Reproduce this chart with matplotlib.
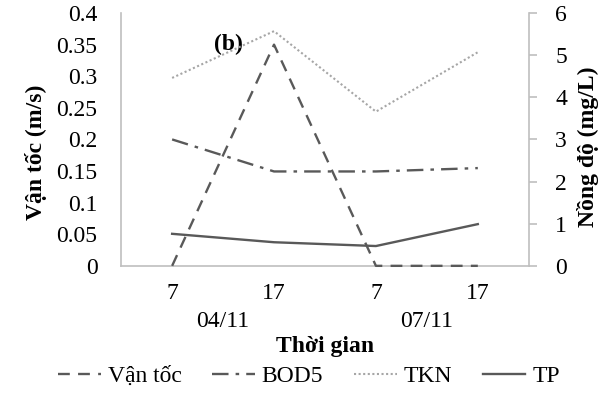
import matplotlib.pyplot as plt
import matplotlib.transforms as mtransforms
import numpy as np

# data
hours = ['7', '17', '7', '17']
days = ['04/11', '07/11']
van_toc = [0.0, 0.35, 0.0, 0.0]        # left axis (m/s)
bod5 = [3.0, 2.24, 2.24, 2.32]        # right axis (mg/L)
tkn = [4.46, 5.57, 3.66, 5.07]
tp = [0.76, 0.56, 0.47, 0.99]

plt.rcParams['font.family'] = ['Liberation Serif', 'DejaVu Serif']
fs = 17

dark = '#595959'
light = '#a6a6a6'
spine = '#bfbfbf'

fig = plt.figure(figsize=(6.12, 3.95), dpi=100)
ax = fig.add_axes([0.198, 0.327, 0.666, 0.640])
ax2 = ax.twinx()

x = np.arange(len(hours))

l1, = ax.plot(x, van_toc, color=dark, lw=1.7, dashes=(5, 3.5), zorder=3, clip_on=False)
l2, = ax2.plot(x, bod5, color=dark, lw=1.7, dashes=(7, 3, 1.5, 3))
l3, = ax2.plot(x, tkn, color=light, lw=1.5, dashes=(1, 1.2))
l4, = ax2.plot(x, tp, color=dark, lw=1.7)

ax.set_xlim(-0.5, 3.5)
ax.set_ylim(0, 0.4)
ax2.set_ylim(0, 6)

ax.set_yticks(np.arange(0, 0.401, 0.05))
ax.set_yticklabels(['0', '0.05', '0.1', '0.15', '0.2', '0.25', '0.3', '0.35', '0.4'])
ax2.set_yticks(np.arange(0, 7, 1))
ax.set_xticks(x)
ax.set_xticklabels(hours)

for a in (ax, ax2):
    for s in a.spines.values():
        s.set_color(spine)
        s.set_linewidth(1.2)
    a.spines['top'].set_visible(False)
ax.spines['right'].set_visible(False)
ax2.spines['left'].set_visible(False)
ax2.spines['bottom'].set_visible(False)

ax.tick_params(axis='y', length=0, labelsize=fs, pad=17)
ax.tick_params(axis='x', length=0, labelsize=fs, pad=12)
ax2.tick_params(axis='y', length=6, color=spine, width=1.2, labelsize=fs, pad=13)

ax.set_ylabel('Vận tốc (m/s)', fontsize=fs, fontweight='bold', labelpad=7)
ax2.set_ylabel('Nồng độ (mg/L)', fontsize=fs, fontweight='bold', labelpad=7)
ax.yaxis.label.set_y(0.45)
ax2.yaxis.label.set_y(0.47)

# date group labels under the hours
trans = mtransforms.blended_transform_factory(ax.transData, fig.transFigure)
for i, d in enumerate(days):
    ax.text(2 * i + 0.5, 0.185, d, transform=trans, ha='center', va='center', fontsize=fs)
ax.text(1.5, 0.122, 'Thời gian', transform=trans, ha='center', va='center',
        fontsize=fs, fontweight='bold')

ax.text(0.262, 0.874, '(b)', transform=ax.transAxes, ha='center', va='center',
        fontsize=fs, fontweight='bold')

fig.legend([l1, l2, l3, l4], ['Vận tốc', 'BOD5', 'TKN', 'TP'],
           loc='center', bbox_to_anchor=(0.505, 0.048), ncol=4, frameon=False,
           fontsize=fs, handlelength=1.8, handletextpad=0.3, columnspacing=1.3)

plt.savefig('out.png', dpi=100)
